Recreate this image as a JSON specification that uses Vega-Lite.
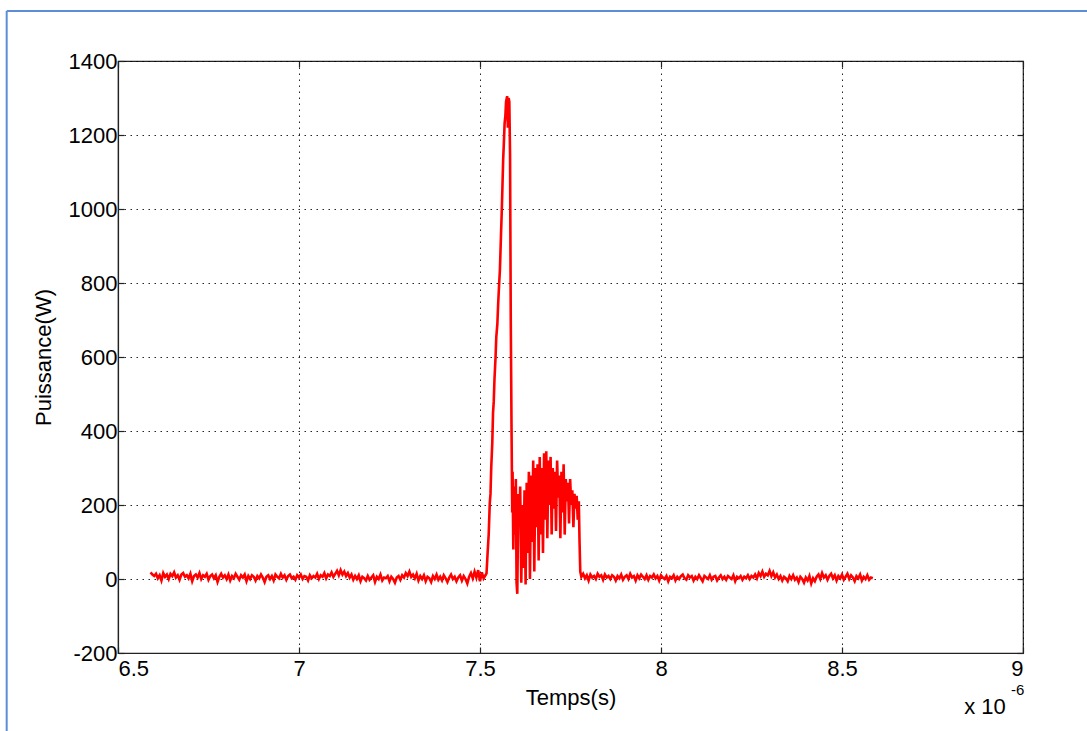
{
  "$schema": "https://vega.github.io/schema/vega-lite/v6.json",
  "autosize": {"type": "none"},
  "padding": {"left": 118, "top": 61, "right": 64, "bottom": 78},
  "width": 905,
  "height": 592,
  "background": "#ffffff",
  "config": {
    "font": "Liberation Sans",
    "view": {"stroke": "#222222", "strokeWidth": 1.2},
    "axis": {
      "domainColor": "#222222",
      "domainWidth": 1.2,
      "tickColor": "#222222",
      "tickWidth": 1.2,
      "tickSize": -6,
      "labelFont": "Liberation Sans",
      "labelFontSize": 22,
      "labelColor": "#000000",
      "titleFont": "Liberation Sans",
      "titleFontSize": 22,
      "titleFontWeight": "normal",
      "titleColor": "#000000",
      "gridColor": "#000000",
      "gridOpacity": 0.85,
      "gridDash": [1.5, 4.5],
      "gridWidth": 1
    }
  },
  "resolve": {"scale": {"x": "independent", "y": "independent"}, "axis": {"x": "independent", "y": "independent"}},
  "data": {"values": [
    {"t":6.590,"p":18},{"t":6.595,"p":12},{"t":6.600,"p":8},{"t":6.605,"p":14},{"t":6.610,"p":2},{"t":6.615,"p":10},{"t":6.620,"p":-4},{"t":6.625,"p":16},{"t":6.630,"p":6},{"t":6.635,"p":12},
    {"t":6.640,"p":0},{"t":6.645,"p":14},{"t":6.650,"p":8},{"t":6.655,"p":18},{"t":6.660,"p":4},{"t":6.665,"p":10},{"t":6.670,"p":-2},{"t":6.675,"p":12},{"t":6.680,"p":16},{"t":6.685,"p":6},
    {"t":6.690,"p":10},{"t":6.695,"p":2},{"t":6.700,"p":14},{"t":6.705,"p":-6},{"t":6.710,"p":8},{"t":6.715,"p":12},{"t":6.720,"p":4},{"t":6.725,"p":16},{"t":6.730,"p":0},{"t":6.735,"p":10},
    {"t":6.740,"p":6},{"t":6.745,"p":14},{"t":6.750,"p":-2},{"t":6.755,"p":8},{"t":6.760,"p":12},{"t":6.765,"p":2},{"t":6.770,"p":10},{"t":6.775,"p":-8},{"t":6.780,"p":6},{"t":6.785,"p":14},
    {"t":6.790,"p":4},{"t":6.795,"p":10},{"t":6.800,"p":0},{"t":6.805,"p":12},{"t":6.810,"p":-4},{"t":6.815,"p":8},{"t":6.820,"p":2},{"t":6.825,"p":14},{"t":6.830,"p":6},{"t":6.835,"p":-2},
    {"t":6.840,"p":10},{"t":6.845,"p":4},{"t":6.850,"p":12},{"t":6.855,"p":-6},{"t":6.860,"p":8},{"t":6.865,"p":0},{"t":6.870,"p":10},{"t":6.875,"p":6},{"t":6.880,"p":-4},{"t":6.885,"p":8},
    {"t":6.890,"p":2},{"t":6.895,"p":12},{"t":6.900,"p":4},{"t":6.905,"p":-8},{"t":6.910,"p":6},{"t":6.915,"p":10},{"t":6.920,"p":0},{"t":6.925,"p":8},{"t":6.930,"p":-4},{"t":6.935,"p":12},
    {"t":6.940,"p":6},{"t":6.945,"p":2},{"t":6.950,"p":14},{"t":6.955,"p":4},{"t":6.960,"p":10},{"t":6.965,"p":-2},{"t":6.970,"p":8},{"t":6.975,"p":12},{"t":6.980,"p":2},{"t":6.985,"p":6},
    {"t":6.990,"p":-2},{"t":6.995,"p":10},{"t":7.000,"p":4},{"t":7.005,"p":12},{"t":7.010,"p":0},{"t":7.015,"p":8},{"t":7.020,"p":6},{"t":7.025,"p":-4},{"t":7.030,"p":10},{"t":7.035,"p":2},
    {"t":7.040,"p":8},{"t":7.045,"p":4},{"t":7.050,"p":14},{"t":7.055,"p":0},{"t":7.060,"p":10},{"t":7.065,"p":6},{"t":7.070,"p":16},{"t":7.075,"p":2},{"t":7.080,"p":12},{"t":7.085,"p":8},
    {"t":7.090,"p":18},{"t":7.095,"p":6},{"t":7.100,"p":14},{"t":7.105,"p":22},{"t":7.110,"p":10},{"t":7.115,"p":24},{"t":7.120,"p":12},{"t":7.125,"p":20},{"t":7.130,"p":8},{"t":7.135,"p":16},
    {"t":7.140,"p":4},{"t":7.145,"p":12},{"t":7.150,"p":-2},{"t":7.155,"p":8},{"t":7.160,"p":0},{"t":7.165,"p":10},{"t":7.170,"p":-6},{"t":7.175,"p":6},{"t":7.180,"p":2},{"t":7.185,"p":-4},
    {"t":7.190,"p":8},{"t":7.195,"p":-2},{"t":7.200,"p":4},{"t":7.205,"p":10},{"t":7.210,"p":-8},{"t":7.215,"p":6},{"t":7.220,"p":0},{"t":7.225,"p":12},{"t":7.230,"p":-4},{"t":7.235,"p":4},
    {"t":7.240,"p":2},{"t":7.245,"p":8},{"t":7.250,"p":-6},{"t":7.255,"p":6},{"t":7.260,"p":0},{"t":7.265,"p":-10},{"t":7.270,"p":4},{"t":7.275,"p":8},{"t":7.280,"p":-2},{"t":7.285,"p":10},
    {"t":7.290,"p":4},{"t":7.295,"p":16},{"t":7.300,"p":8},{"t":7.305,"p":20},{"t":7.310,"p":6},{"t":7.315,"p":12},{"t":7.320,"p":2},{"t":7.325,"p":14},{"t":7.330,"p":-4},{"t":7.335,"p":8},
    {"t":7.340,"p":0},{"t":7.345,"p":10},{"t":7.350,"p":-6},{"t":7.355,"p":6},{"t":7.360,"p":2},{"t":7.365,"p":-8},{"t":7.370,"p":8},{"t":7.375,"p":0},{"t":7.380,"p":12},{"t":7.385,"p":-2},
    {"t":7.390,"p":6},{"t":7.395,"p":-4},{"t":7.400,"p":10},{"t":7.405,"p":2},{"t":7.410,"p":-8},{"t":7.415,"p":4},{"t":7.420,"p":12},{"t":7.425,"p":0},{"t":7.430,"p":6},{"t":7.435,"p":-6},
    {"t":7.440,"p":4},{"t":7.445,"p":10},{"t":7.450,"p":-4},{"t":7.455,"p":8},{"t":7.460,"p":0},{"t":7.465,"p":-12},{"t":7.470,"p":6},{"t":7.475,"p":16},{"t":7.480,"p":2},{"t":7.485,"p":20},
    {"t":7.490,"p":4},{"t":7.495,"p":24},{"t":7.500,"p":-6},{"t":7.505,"p":18},{"t":7.510,"p":2},{"t":7.515,"p":10},
    {"t":7.518,"p":15},{"t":7.521,"p":70},{"t":7.524,"p":120},{"t":7.527,"p":205},{"t":7.529,"p":230},{"t":7.531,"p":300},{"t":7.534,"p":370},{"t":7.536,"p":449},{"t":7.538,"p":480},{"t":7.540,"p":540},{"t":7.543,"p":600},{"t":7.545,"p":654},{"t":7.548,"p":690},{"t":7.550,"p":740},{"t":7.553,"p":800},{"t":7.555,"p":835},{"t":7.558,"p":930},{"t":7.560,"p":990},
    {"t":7.562,"p":1060},{"t":7.564,"p":1133},{"t":7.566,"p":1180},{"t":7.568,"p":1232},{"t":7.570,"p":1250},{"t":7.572,"p":1290},{"t":7.575,"p":1305},{"t":7.577,"p":1220},{"t":7.579,"p":1300},{"t":7.581,"p":1290},{"t":7.583,"p":1150},{"t":7.585,"p":700},{"t":7.587,"p":420},{"t":7.589,"p":180},
    {"t":7.590,"p":290},{"t":7.592,"p":80},{"t":7.594,"p":250},{"t":7.597,"p":120},{"t":7.599,"p":270},{"t":7.601,"p":-10},{"t":7.603,"p":-40},{"t":7.606,"p":230},{"t":7.609,"p":150},{"t":7.611,"p":250},
    {"t":7.614,"p":-10},{"t":7.617,"p":200},{"t":7.620,"p":30},{"t":7.623,"p":240},{"t":7.626,"p":-15},{"t":7.629,"p":260},{"t":7.632,"p":70},{"t":7.635,"p":290},{"t":7.638,"p":0},{"t":7.641,"p":280},
    {"t":7.644,"p":100},{"t":7.647,"p":320},{"t":7.650,"p":20},{"t":7.653,"p":300},{"t":7.656,"p":140},{"t":7.659,"p":310},{"t":7.662,"p":50},{"t":7.665,"p":330},{"t":7.668,"p":120},{"t":7.671,"p":300},
    {"t":7.674,"p":70},{"t":7.677,"p":340},{"t":7.680,"p":160},{"t":7.683,"p":345},{"t":7.686,"p":110},{"t":7.689,"p":320},{"t":7.692,"p":200},{"t":7.695,"p":330},{"t":7.698,"p":120},{"t":7.701,"p":300},
    {"t":7.704,"p":190},{"t":7.707,"p":290},{"t":7.710,"p":130},{"t":7.713,"p":320},{"t":7.716,"p":220},{"t":7.719,"p":280},{"t":7.722,"p":110},{"t":7.725,"p":290},{"t":7.728,"p":180},{"t":7.731,"p":310},
    {"t":7.734,"p":120},{"t":7.737,"p":270},{"t":7.740,"p":210},{"t":7.743,"p":260},{"t":7.746,"p":150},{"t":7.749,"p":270},{"t":7.752,"p":200},{"t":7.755,"p":240},{"t":7.758,"p":140},{"t":7.761,"p":230},
    {"t":7.764,"p":190},{"t":7.767,"p":225},{"t":7.770,"p":160},{"t":7.773,"p":210},{"t":7.775,"p":100},{"t":7.777,"p":20},
    {"t":7.780,"p":6},{"t":7.785,"p":14},{"t":7.790,"p":2},{"t":7.795,"p":10},{"t":7.800,"p":-4},{"t":7.805,"p":12},{"t":7.810,"p":4},{"t":7.815,"p":8},{"t":7.820,"p":0},{"t":7.825,"p":14},
    {"t":7.830,"p":6},{"t":7.835,"p":10},{"t":7.840,"p":-2},{"t":7.845,"p":12},{"t":7.850,"p":4},{"t":7.855,"p":8},{"t":7.860,"p":0},{"t":7.865,"p":10},{"t":7.870,"p":6},{"t":7.875,"p":-4},
    {"t":7.880,"p":8},{"t":7.885,"p":2},{"t":7.890,"p":12},{"t":7.895,"p":-2},{"t":7.900,"p":6},{"t":7.905,"p":10},{"t":7.910,"p":0},{"t":7.915,"p":14},{"t":7.920,"p":4},{"t":7.925,"p":8},
    {"t":7.930,"p":-4},{"t":7.935,"p":10},{"t":7.940,"p":2},{"t":7.945,"p":12},{"t":7.950,"p":6},{"t":7.955,"p":0},{"t":7.960,"p":10},{"t":7.965,"p":-2},{"t":7.970,"p":8},{"t":7.975,"p":4},
    {"t":7.980,"p":12},{"t":7.985,"p":2},{"t":7.990,"p":8},{"t":7.995,"p":-4},{"t":8.000,"p":10},{"t":8.005,"p":4},{"t":8.010,"p":0},{"t":8.015,"p":8},{"t":8.020,"p":-6},{"t":8.025,"p":6},
    {"t":8.030,"p":2},{"t":8.035,"p":10},{"t":8.040,"p":-4},{"t":8.045,"p":6},{"t":8.050,"p":0},{"t":8.055,"p":8},{"t":8.060,"p":12},{"t":8.065,"p":2},{"t":8.070,"p":-2},{"t":8.075,"p":10},
    {"t":8.080,"p":4},{"t":8.085,"p":8},{"t":8.090,"p":-4},{"t":8.095,"p":6},{"t":8.100,"p":0},{"t":8.105,"p":10},{"t":8.110,"p":2},{"t":8.115,"p":-6},{"t":8.120,"p":8},{"t":8.125,"p":4},
    {"t":8.130,"p":0},{"t":8.135,"p":10},{"t":8.140,"p":-2},{"t":8.145,"p":6},{"t":8.150,"p":8},{"t":8.155,"p":-4},{"t":8.160,"p":4},{"t":8.165,"p":10},{"t":8.170,"p":0},{"t":8.175,"p":6},
    {"t":8.180,"p":-2},{"t":8.185,"p":8},{"t":8.190,"p":4},{"t":8.195,"p":0},{"t":8.200,"p":10},{"t":8.205,"p":-6},{"t":8.210,"p":6},{"t":8.215,"p":2},{"t":8.220,"p":8},{"t":8.225,"p":-2},
    {"t":8.230,"p":6},{"t":8.235,"p":2},{"t":8.240,"p":10},{"t":8.245,"p":0},{"t":8.250,"p":8},{"t":8.255,"p":4},{"t":8.260,"p":12},{"t":8.265,"p":2},{"t":8.270,"p":16},{"t":8.275,"p":8},
    {"t":8.280,"p":20},{"t":8.285,"p":6},{"t":8.290,"p":14},{"t":8.295,"p":10},{"t":8.300,"p":22},{"t":8.305,"p":8},{"t":8.310,"p":18},{"t":8.315,"p":4},{"t":8.320,"p":12},{"t":8.325,"p":0},
    {"t":8.330,"p":8},{"t":8.335,"p":-4},{"t":8.340,"p":6},{"t":8.345,"p":2},{"t":8.350,"p":-6},{"t":8.355,"p":8},{"t":8.360,"p":0},{"t":8.365,"p":10},{"t":8.370,"p":-2},{"t":8.375,"p":4},
    {"t":8.380,"p":-8},{"t":8.385,"p":6},{"t":8.390,"p":0},{"t":8.395,"p":-10},{"t":8.400,"p":4},{"t":8.405,"p":-4},{"t":8.410,"p":8},{"t":8.415,"p":-12},{"t":8.420,"p":2},{"t":8.425,"p":-6},
    {"t":8.430,"p":6},{"t":8.435,"p":12},{"t":8.440,"p":0},{"t":8.445,"p":16},{"t":8.450,"p":4},{"t":8.455,"p":10},{"t":8.460,"p":-2},{"t":8.465,"p":8},{"t":8.470,"p":14},{"t":8.475,"p":2},
    {"t":8.480,"p":10},{"t":8.485,"p":-4},{"t":8.490,"p":8},{"t":8.495,"p":2},{"t":8.500,"p":12},{"t":8.505,"p":-2},{"t":8.510,"p":6},{"t":8.515,"p":14},{"t":8.520,"p":0},{"t":8.525,"p":10},
    {"t":8.530,"p":4},{"t":8.535,"p":-6},{"t":8.540,"p":8},{"t":8.545,"p":2},{"t":8.550,"p":12},{"t":8.555,"p":-4},{"t":8.560,"p":6},{"t":8.565,"p":0},{"t":8.570,"p":10},{"t":8.575,"p":-2},{"t":8.580,"p":4},{"t":8.585,"p":2}
  ]},
  "layer": [
    {
      "data": {"values": [{}]},
      "mark": {"type": "point", "opacity": 0},
      "encoding": {
        "x": {
          "datum": 7, "type": "quantitative",
          "scale": {"domain": [6.5, 9], "nice": false, "zero": false},
          "axis": {"orient": "top", "values": [6.5, 7, 7.5, 8, 8.5, 9], "labels": false, "domain": false, "grid": false, "title": null}
        },
        "y": {
          "datum": 0, "type": "quantitative",
          "scale": {"domain": [-200, 1400], "nice": false, "zero": false},
          "axis": {"orient": "right", "values": [-200, 0, 200, 400, 600, 800, 1000, 1200, 1400], "labels": false, "domain": false, "grid": false, "title": null}
        }
      }
    },
    {
      "layer": [
        {
          "mark": {"type": "line", "color": "#ff0000", "strokeWidth": 2.6, "clip": true},
          "encoding": {
            "x": {
              "field": "t", "type": "quantitative",
              "scale": {"domain": [6.5, 9], "nice": false, "zero": false},
              "axis": {
                "title": "Temps(s)",
                "values": [6.5, 7, 7.5, 8, 8.5, 9],
                "format": ".1~f",
                "labelPadding": 11,
                "titlePadding": 8,
                "grid": true
              }
            },
            "y": {
              "field": "p", "type": "quantitative",
              "scale": {"domain": [-200, 1400], "nice": false, "zero": false},
              "axis": {
                "title": "Puissance(W)",
                "values": [-200, 0, 200, 400, 600, 800, 1000, 1200, 1400],
                "labelExpr": "'' + datum.value",
                "labelPadding": 7,
                "titlePadding": 13,
                "grid": true
              }
            }
          }
        },
        {
          "data": {"values": [{}]},
          "mark": {"type": "text", "fontSize": 22, "font": "Liberation Sans", "color": "#000000", "align": "center", "baseline": "middle"},
          "encoding": {
            "x": {"datum": 8.895, "type": "quantitative"},
            "y": {"datum": -346, "type": "quantitative"},
            "text": {"value": "x 10"}
          }
        },
        {
          "data": {"values": [{}]},
          "mark": {"type": "text", "fontSize": 15, "font": "Liberation Sans", "color": "#000000", "align": "center", "baseline": "middle"},
          "encoding": {
            "x": {"datum": 8.985, "type": "quantitative"},
            "y": {"datum": -300, "type": "quantitative"},
            "text": {"value": "-6"}
          }
        },
        {
          "data": {"values": [{}]},
          "mark": {"type": "rule", "color": "#5b8ed6", "strokeWidth": 2},
          "encoding": {
            "x": {"datum": 6.1925, "type": "quantitative"},
            "x2": {"datum": 9.4},
            "y": {"datum": 1535, "type": "quantitative"}
          }
        },
        {
          "data": {"values": [{}]},
          "mark": {"type": "rule", "color": "#5b8ed6", "strokeWidth": 2},
          "encoding": {
            "x": {"datum": 6.1925, "type": "quantitative"},
            "y": {"datum": 1535, "type": "quantitative"},
            "y2": {"datum": -600}
          }
        }
      ]
    }
  ]
}
